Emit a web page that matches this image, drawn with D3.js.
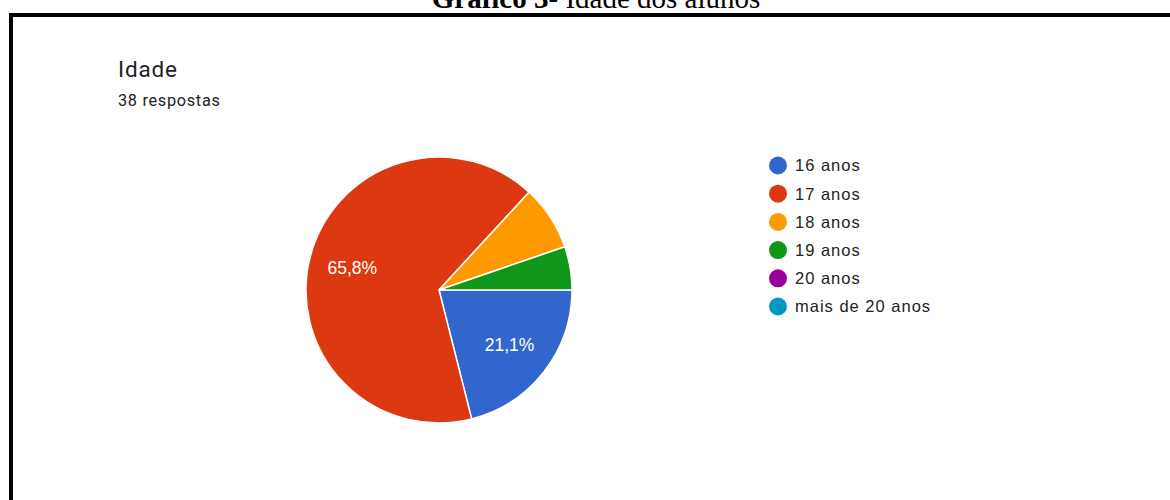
<!DOCTYPE html>
<html>
<head>
<meta charset="utf-8">
<script src="https://cdn.jsdelivr.net/npm/d3@7"></script>
<style>
  html, body { margin: 0; padding: 0; background: #fff; }
  svg { display: block; }
</style>
</head>
<body>
<svg id="chart" width="1170" height="500"></svg>
<script>
// Age distribution of the 38 respondents
const categories = ["16 anos", "17 anos", "18 anos", "19 anos", "20 anos", "mais de 20 anos"];
const counts = [8, 25, 3, 2, 0, 0];
const colors = ["#3366cc", "#dc3912", "#ff9900", "#109618", "#990099", "#0099c6"];
const totalResponses = 38;

const svg = d3.select("#chart");

// Figure caption above the frame
const caption = svg.append("text")
  .attr("x", 596)
  .attr("y", 8)
  .attr("text-anchor", "middle")
  .style("font-family", "'Liberation Serif', 'Times New Roman', serif")
  .style("font-size", "29px")
  .attr("fill", "#000");
caption.append("tspan").style("font-weight", "bold").text("Gráfico 3-");
caption.append("tspan").text(" Idade dos alunos");

// Black frame around the chart
svg.append("path")
  .attr("d", d3.line()([[11, 500], [11, 15], [1170, 15]]))
  .attr("fill", "none")
  .attr("stroke", "#000")
  .attr("stroke-width", 4);

// Heading
svg.append("text")
  .attr("x", 118)
  .attr("y", 77)
  .style("font-family", "Roboto, Arial, sans-serif")
  .style("font-size", "22.5px")
  .style("letter-spacing", "0.8px")
  .attr("fill", "#202124")
  .text("Idade");

svg.append("text")
  .attr("x", 118)
  .attr("y", 106)
  .style("font-family", "Roboto, Arial, sans-serif")
  .style("font-size", "16.3px")
  .style("letter-spacing", "0.7px")
  .attr("fill", "#202124")
  .text(totalResponses + " respostas");

// Pie
const cx = 439, cy = 290, radius = 133;
const data = categories.map((c, i) => ({ name: c, value: counts[i], color: colors[i] }));
const total = d3.sum(counts);

const pie = d3.pie()
  .value(d => d.value)
  .sort(null)
  .startAngle(Math.PI / 2)
  .endAngle(Math.PI / 2 + 2 * Math.PI);

const arc = d3.arc().innerRadius(0).outerRadius(radius);
const labelArc = d3.arc().innerRadius(radius * 0.672).outerRadius(radius * 0.672);

const g = svg.append("g").attr("transform", `translate(${cx},${cy})`);
const arcs = pie(data).filter(d => d.value > 0);

g.selectAll("path.slice")
  .data(arcs)
  .join("path")
  .attr("class", "slice")
  .attr("d", arc)
  .attr("fill", d => d.data.color)
  .attr("stroke", "#fff")
  .attr("stroke-width", 1.5);

const fmt = v => d3.format(".1f")(v).replace(".", ",") + "%";

g.selectAll("text.pct")
  .data(arcs.filter(d => d.value / total >= 0.1))
  .join("text")
  .attr("class", "pct")
  .attr("transform", d => `translate(${labelArc.centroid(d)})`)
  .attr("text-anchor", "middle")
  .attr("dy", "0.36em")
  .style("font-family", "'Liberation Sans', Arial, sans-serif")
  .style("font-size", "17.5px")
  .attr("fill", "#fff")
  .text(d => fmt(d.value / total * 100));

// Legend
const legendY = d3.scalePoint()
  .domain(categories)
  .range([165.5, 306.5]);

const legend = svg.append("g");
const items = legend.selectAll("g")
  .data(data)
  .join("g")
  .attr("transform", d => `translate(778,${legendY(d.name)})`);

items.append("circle")
  .attr("r", 9)
  .attr("fill", d => d.color);

items.append("text")
  .attr("x", 17)
  .attr("dy", "0.36em")
  .style("font-family", "'Liberation Sans', Arial, sans-serif")
  .style("font-size", "16.5px")
  .style("letter-spacing", "1px")
  .attr("fill", "#222")
  .text(d => d.name);
</script>
</body>
</html>
